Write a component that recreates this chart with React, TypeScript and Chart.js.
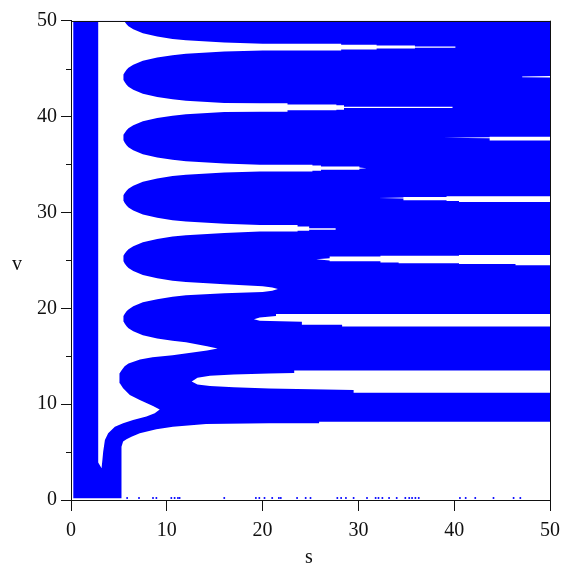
import { useEffect, useRef } from 'react';
import { Chart, registerables } from 'chart.js';

Chart.register(...registerables);

const BLUE = '#0000ff';
const INK = '#111111';
const FONT = '"Liberation Serif", "DejaVu Serif", serif';

// s-axis / v-axis tick labels
const sTicks = [0, 10, 20, 30, 40, 50];
const vMinorTicks = [5, 15, 25, 35, 45];

// blue region (base field), then white holes cut out of it
const blueField: [number, number][] = [
  [0.24, 0.18], [50, 0.18], [50, 50], [0.24, 50],
];

// white column + tongues reaching right from it (odd multiples of pi)
const whiteComb: [number, number][] = [
  [2.84, 50], [2.84, 3.9], [3.19, 3.3],
  [3.28, 4.2], [3.36, 5.04], [3.54, 6.26], [3.88, 6.96], [4.58, 7.65], [5.44, 8.0], [6.48, 8.35], [7.87, 8.7], [8.74, 9.05], [9.26, 9.45],
  [8.56, 9.81], [7.18, 10.44], [6.14, 10.96], [5.44, 11.66], [5.1, 12.18], [5.02, 12.65],
  [5.1, 13.2], [5.3, 13.55], [5.6, 13.95], [6.0, 14.25], [7.2, 14.65], [8.5, 14.88], [10.6, 15.1], [12.5, 15.35], [14.2, 15.6], [15.3, 15.8],
  [14.2, 16.05], [12, 16.45], [10.6, 16.6], [9, 16.85], [7.5, 17.18], [6.5, 17.6], [6.0, 17.92], [5.8, 18.12], [5.6, 18.4], [5.5, 18.6], [5.45, 18.9],
  [5.5, 19.2], [5.6, 19.4], [5.8, 19.68], [6.0, 19.88], [6.5, 20.2], [7.5, 20.62], [9, 20.95], [10.6, 21.2], [12, 21.35], [16, 21.58], [20, 21.7], [21.0, 21.82], [21.6, 22.0],
  [21.0, 22.17], [20, 22.3], [16, 22.5], [12, 22.73], [10.6, 22.88], [9, 23.13], [7.5, 23.46], [6.5, 23.88], [6.0, 24.2], [5.8, 24.4], [5.6, 24.68], [5.5, 24.88], [5.45, 25.18],
  [5.5, 25.48], [5.6, 25.68], [5.8, 25.96], [6.0, 26.16], [6.5, 26.48], [7.5, 26.9], [9, 27.23], [10.6, 27.48], [12, 27.63], [16, 27.86], [19.7, 28.0], [23.65, 28.0], [23.65, 28.1], [24.86, 28.1], [24.86, 28.18], [27.6, 28.18], [27.65, 28.27],
  [27.6, 28.36], [24.86, 28.36], [24.86, 28.53], [23.65, 28.53], [23.65, 28.7], [19.7, 28.7], [16, 28.81], [12, 29.04], [10.6, 29.19], [9, 29.44], [7.5, 29.77], [6.5, 30.19], [6.0, 30.51], [5.8, 30.71], [5.6, 30.99], [5.5, 31.19], [5.45, 31.49],
  [5.5, 31.79], [5.6, 31.99], [5.8, 32.27], [6.0, 32.47], [6.5, 32.79], [7.5, 33.21], [9, 33.54], [10.6, 33.79], [12, 33.94], [16, 34.17], [19.7, 34.27], [25.2, 34.27], [25.2, 34.34], [26.1, 34.34], [26.1, 34.45], [30.1, 34.45], [30.1, 34.55], [30.85, 34.62],
  [30.1, 34.69], [30.1, 34.79], [26.1, 34.79], [26.1, 34.9], [25.2, 34.9], [25.2, 34.97], [19.7, 34.97], [16, 35.11], [12, 35.34], [10.6, 35.49], [9, 35.74], [7.5, 36.07], [6.5, 36.49], [6.0, 36.81], [5.8, 37.01], [5.6, 37.29], [5.5, 37.49], [5.45, 37.79],
  [5.5, 38.09], [5.6, 38.29], [5.8, 38.57], [6.0, 38.77], [6.5, 39.09], [7.5, 39.51], [9, 39.84], [10.6, 40.09], [12, 40.24], [16, 40.47], [19.7, 40.51], [22.6, 40.51], [22.6, 40.65], [27.7, 40.65], [27.7, 40.72], [28.5, 40.72], [28.5, 40.88], [39.8, 40.88], [39.85, 40.95],
  [39.8, 41.02], [28.5, 41.02], [28.5, 41.18], [27.7, 41.18], [27.7, 41.25], [22.6, 41.25], [22.6, 41.39], [19.7, 41.39], [16, 41.42], [12, 41.65], [10.6, 41.8], [9, 42.05], [7.5, 42.38], [6.5, 42.8], [6.0, 43.12], [5.8, 43.32], [5.6, 43.6], [5.5, 43.8], [5.45, 44.1],
  [5.5, 44.4], [5.6, 44.6], [5.8, 44.88], [6.0, 45.08], [6.5, 45.4], [7.5, 45.82], [9, 46.15], [10.6, 46.4], [12, 46.55], [16, 46.78], [20, 46.9], [28.2, 46.9], [28.2, 47.0], [31.9, 47.0], [31.9, 47.1], [35.9, 47.1], [35.9, 47.18], [40.1, 47.18], [40.15, 47.25],
  [40.1, 47.32], [35.9, 47.32], [35.9, 47.4], [31.9, 47.4], [31.9, 47.5], [28.2, 47.5], [28.2, 47.6], [20, 47.6], [16, 47.72], [12, 47.95], [10.6, 48.1], [9, 48.35], [7.5, 48.68], [6.5, 49.1], [6.0, 49.42], [5.8, 49.62], [5.6, 49.9], [5.55, 50.0],
];

// white area below the lower arm
const whiteBelowArm: [number, number][] = [
  [5.27, 0], [5.27, 5.56], [5.44, 6.09], [5.79, 6.33], [6.31, 6.61], [7.18, 6.96], [8.91, 7.38], [10.64, 7.65], [14.1, 7.93], [20.7, 8.0], [25.9, 8.0], [25.9, 8.17], [50, 8.17], [50, 0],
];

// white strips reaching left from the right edge (multiples of 2*pi)
const whiteStrip4: [number, number][] = [
  [12.6, 12.35], [13.2, 12.75], [14.5, 12.95], [17, 13.1], [20.7, 13.2], [23.3, 13.26], [23.3, 13.5], [50, 13.5], [50, 11.2], [29.5, 11.2], [29.5, 11.48], [20.7, 11.62], [17, 11.75], [14.5, 11.9], [13.2, 12.05],
];
const whiteStrip6: [number, number][] = [
  [19.1, 18.86], [19.7, 19.05], [21.4, 19.2], [21.4, 19.4], [50, 19.4], [50, 18.1], [28.3, 18.1], [28.3, 18.27], [24.1, 18.27], [24.1, 18.6], [19.7, 18.7],
];
const whiteStrip8: [number, number][] = [
  [25.6, 25.12], [27.0, 25.23], [27.0, 25.4], [32.3, 25.4], [32.3, 25.47], [40.5, 25.47], [40.5, 25.57], [50, 25.57], [50, 24.5], [46.4, 24.5], [46.4, 24.63], [40.5, 24.63], [40.5, 24.7], [34.2, 24.7], [34.2, 24.77], [32.3, 24.77], [32.3, 24.9], [27.0, 24.9], [27.0, 24.98],
];
const whiteStrip10: [number, number][] = [
  [32.1, 31.5], [34.7, 31.55], [34.7, 31.6], [39.2, 31.6], [39.2, 31.68], [50, 31.68], [50, 31.08], [40.5, 31.08], [40.5, 31.2], [39.2, 31.2], [39.2, 31.28], [34.7, 31.28], [34.7, 31.45],
];
const whiteStrip12: [number, number][] = [
  [38.9, 37.78], [43.7, 37.83], [43.7, 37.9], [50, 37.9], [50, 37.5], [43.7, 37.5], [43.7, 37.73],
];
const whiteStrip14: [number, number][] = [
  [47.1, 44.1], [50, 44.08], [50, 44.22], [47.1, 44.18],
];

// stray blue dots along the s-axis
const baseDotsS = [5.86, 7.1, 8.56, 8.91, 10.47, 10.82, 11.16, 11.34, 16.0, 19.3, 19.66, 20.2, 21.0, 21.7, 21.9, 23.6, 24.5, 25.0, 27.8, 28.2, 28.7, 29.5, 30.9, 31.8, 32.1, 32.5, 33.2, 34.0, 34.9, 35.3, 35.6, 35.95, 36.3, 40.6, 41.2, 42.2, 44.1, 46.2, 46.9];
const baseDotsV = 0.2;

const toPts = (arr: [number, number][]) => arr.map(([x, y]) => ({ x, y }));

function polygon(label: string, pts: [number, number][], color: string) {
  return {
    type: 'line' as const,
    label,
    data: toPts(pts),
    borderWidth: 0,
    pointRadius: 0,
    pointHoverRadius: 0,
    backgroundColor: color,
    fill: 'shape',
    tension: 0,
    showLine: true,
  };
}

const framePlugin = {
  id: 'maple-frame',
  afterDraw(chart: any) {
    const { ctx, chartArea: a, scales } = chart;
    const y = scales.y;
    ctx.save();
    ctx.strokeStyle = INK;
    ctx.lineWidth = 1;
    ctx.beginPath();
    ctx.moveTo(a.left, Math.round(a.top) + 0.5);
    ctx.lineTo(a.right, Math.round(a.top) + 0.5);
    ctx.moveTo(Math.round(a.right) + 0.5, a.top);
    ctx.lineTo(Math.round(a.right) + 0.5, a.bottom);
    for (const v of vMinorTicks) {
      const py = Math.round(y.getPixelForValue(v)) + 0.5;
      ctx.moveTo(a.left - 5, py);
      ctx.lineTo(a.left, py);
    }
    ctx.stroke();
    ctx.fillStyle = INK;
    ctx.font = `20px ${FONT}`;
    ctx.textAlign = 'center';
    ctx.textBaseline = 'alphabetic';
    ctx.fillText('v', 17, 270);
    ctx.fillText('s', 309, 563);
    ctx.restore();
  },
};

export default function App() {
  const ref = useRef<HTMLCanvasElement | null>(null);
  useEffect(() => {
    if (!ref.current) return;
    const datasets: any[] = [
      {
        type: 'line',
        label: 'dots',
        data: baseDotsS.map((x) => ({ x, y: baseDotsV })),
        showLine: false,
        pointRadius: 1,
        pointBorderWidth: 0,
        pointBackgroundColor: BLUE,
        backgroundColor: BLUE,
      },
      polygon('comb', whiteComb, '#ffffff'),
      polygon('below', whiteBelowArm, '#ffffff'),
      polygon('s4', whiteStrip4, '#ffffff'),
      polygon('s6', whiteStrip6, '#ffffff'),
      polygon('s8', whiteStrip8, '#ffffff'),
      polygon('s10', whiteStrip10, '#ffffff'),
      polygon('s12', whiteStrip12, '#ffffff'),
      polygon('s14', whiteStrip14, '#ffffff'),
      polygon('field', blueField, BLUE),
    ];
    const chart = new Chart(ref.current, {
      type: 'line',
      data: { datasets },
      options: {
        animation: false,
        responsive: false,
        events: [],
        layout: { padding: { left: 0, right: 16.3, top: 20.7, bottom: 0 } },
        plugins: {
          legend: { display: false },
          tooltip: { enabled: false },
        },
        scales: {
          x: {
            type: 'linear',
            min: 0,
            max: 50,
            afterFit: (s: any) => { s.height = 67; },
            afterBuildTicks: (s: any) => { s.ticks = sTicks.map((v) => ({ value: v })); },
            ticks: { color: INK, font: { family: FONT, size: 20 }, padding: 8, maxRotation: 0, autoSkip: false },
            grid: { drawOnChartArea: false, drawTicks: true, tickLength: 11, color: INK, tickColor: INK },
            border: { display: true, color: INK, width: 1 },
          },
          y: {
            type: 'linear',
            min: 0,
            max: 50,
            afterFit: (s: any) => { s.width = 71; },
            ticks: {
              stepSize: 10,
              color: INK,
              font: { family: FONT, size: 20 },
              padding: 4,
              autoSkip: false,
            },
            grid: { drawOnChartArea: false, drawTicks: true, tickLength: 10, color: INK, tickColor: INK },
            border: { display: true, color: INK, width: 1 },
          },
        },
      } as any,
      plugins: [framePlugin],
    });
    return () => chart.destroy();
  }, []);
  return (
    <div style={{ position: 'fixed', left: 0, top: 0, width: 568, height: 567, background: '#fff' }}>
      <canvas ref={ref} width={568} height={567} style={{ display: 'block' }} />
    </div>
  );
}
